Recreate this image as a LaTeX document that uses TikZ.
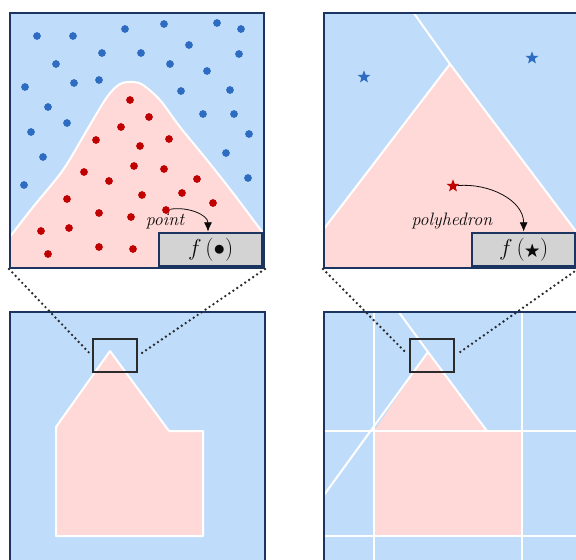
\documentclass[tikz,border=0pt]{standalone}
\usepackage{amsmath, amssymb}
\usepackage{xcolor}
\usepackage{tikz}
\usetikzlibrary{arrows.meta, shapes.geometric}
\definecolor{bgBlue}{HTML}{BFDCFB}
\definecolor{bgPink}{HTML}{FFD9D8}
\definecolor{dotBlue}{HTML}{2D6CC0}
\definecolor{dotRed}{HTML}{C00000}
\definecolor{frameNavy}{HTML}{1B3560}
\definecolor{boxGray}{HTML}{D3D3D3}
\definecolor{inkOne}{HTML}{0B0B0B}
\definecolor{rectInk}{HTML}{2B2B2B}
\tikzset{
  panel/.style={draw=frameNavy, line width=1.5pt, inner sep=0pt},
  edge/.style={draw=white, line width=1.5pt, line join=round},
  dotb/.style={circle, fill=dotBlue, inner sep=0pt, minimum size=5.8pt},
  dotr/.style={circle, fill=dotRed, inner sep=0pt, minimum size=5.8pt},
  starb/.style={star, star points=5, star point ratio=2.4, fill=dotBlue, inner sep=0pt, minimum size=10pt},
  starr/.style={star, star points=5, star point ratio=2.4, fill=dotRed, inner sep=0pt, minimum size=10pt},
  fbox/.style={draw=frameNavy, fill=boxGray, line width=1.5pt, inner sep=0pt, minimum width=77pt, minimum height=25pt,
    font=\fontsize{17}{20}\selectfont, text=inkOne},
  note/.style={font=\fontsize{13.5}{16}\selectfont\itshape, text=inkOne},
  zoomrect/.style={draw=rectInk, line width=1.9pt, inner sep=0pt, minimum width=33pt, minimum height=24.75pt},
  zoomline/.style={draw=rectInk, line width=2pt, line cap=round, dash pattern=on 0pt off 3.6pt, shorten >=3pt},
  arr/.style={-{Latex[length=7pt, width=6pt]}, draw=inkOne, line width=0.6pt},
}

\begin{document}
\begin{tikzpicture}[x=0.75pt, y=-0.75pt]
  \clip (0,0) rectangle (576,560);
  % top left: samples
  \fill[bgBlue] (9,12) rectangle (263,267);
  \fill[bgPink] plot[smooth] coordinates {(9,238) (33,207) (63,170) (87,130) (107,97) (120,84) (133,82) (143,85)
    (160,100) (180,127) (207,160) (233,193) (263,233)} -- (263,267) -- (9,267) -- cycle;
  \draw[edge] plot[smooth] coordinates {(9,238) (33,207) (63,170) (87,130) (107,97) (120,84) (133,82) (143,85)
    (160,100) (180,127) (207,160) (233,193) (263,233)};
  \foreach \x/\y in {37/36, 73/36, 125/29, 164/24, 217/23, 241/29, 102/53, 141/53, 189/45, 239/54,
    56/64, 170/64, 207/71, 25/87, 74/83, 99/80, 181/91, 230/90, 48/107, 203/114, 234/114,
    67/123, 31/132, 249/134, 43/157, 226/153, 24/185, 248/178}
    \node[dotb] at (\x,\y) {};
  \foreach \x/\y in {130/100, 149/117, 121/127, 96/140, 140/146, 169/139, 84/172, 134/166, 164/169,
    109/181, 197/179, 67/199, 142/195, 182/193, 213/203, 99/213, 131/217, 41/231, 69/228,
    48/254, 99/247, 133/249}
    \node[dotr] at (\x,\y) {};
  \node[dotr] (pt) at (166,210) {};
  \node[panel, minimum width=190.5pt, minimum height=191.25pt, anchor=north west] (tl) at (9,12) {};
  \node[fbox, anchor=south east] (fdot) at (263,267) {$f\,(\bullet)$};
  \node[note] (ptlab) at (165,221) {point};
  \draw[arr] (pt) to[out=10, in=90] ([xshift=-2pt]fdot.north);
  % top right: regions
  \fill[bgBlue] (323,12) rectangle (578,267);
  \fill[bgPink] (450,64) -- (323,230) -- (323,267) -- (578,267) -- (578,234) -- cycle;
  \draw[edge] (413,12) -- (450,64) -- (323,230);
  \draw[edge] (450,64) -- (578,234);
  \node[starb] at (364,77) {};
  \node[starb] at (532,58) {};
  \node[starr] (st) at (453,186) {};
  \node[panel, minimum width=191.25pt, minimum height=191.25pt, anchor=north west] (tr) at (323,12) {};
  \node[fbox, anchor=south east] (fstar) at (576,267) {$f\,(\mathord{\scalebox{0.72}{$\bigstar$}})$};
  \node[note] (phlab) at (452,221) {polyhedron};
  \draw[arr] (st) to[out=5, in=90] (fstar.north);
  % bottom left: whole shape
  \fill[bgBlue] (9,311) rectangle (264,566);
  \filldraw[fill=bgPink, edge] (110,351) -- (56,427) -- (56,536) -- (203,536) -- (203,431) -- (169,431) -- cycle;
  \node[panel, minimum width=191.25pt, minimum height=191.25pt, anchor=north west] (bl) at (9,311) {};
  \node[zoomrect] (zl) at (115,355.5) {};
  % bottom right: partition
  \fill[bgBlue] (323,311) rectangle (578,566);
  \fill[bgPink] (428,352) -- (487,431) -- (522,431) -- (522,536) -- (374,536) -- (374,431) -- cycle;
  \draw[edge] (374,311) -- (374,566);
  \draw[edge] (522,311) -- (522,566);
  \draw[edge] (323,431) -- (578,431);
  \draw[edge] (323,536) -- (578,536);
  \draw[edge] (398,311) -- (428,352) -- (487,431);
  \draw[edge] (428,352) -- (324,495);
  \node[panel, minimum width=191.25pt, minimum height=191.25pt, anchor=north west] (br) at (323,311) {};
  \node[zoomrect] (zr) at (432,355.5) {};
  % zoom lines
  \draw[zoomline] (tl.south west) -- (zl.west);
  \draw[zoomline] (tl.south east) -- (zl.east);
  \draw[zoomline] (tr.south west) -- (zr.west);
  \draw[zoomline] ([xshift=-1.5pt]tr.south east) -- (zr.east);
\end{tikzpicture}
\end{document}
